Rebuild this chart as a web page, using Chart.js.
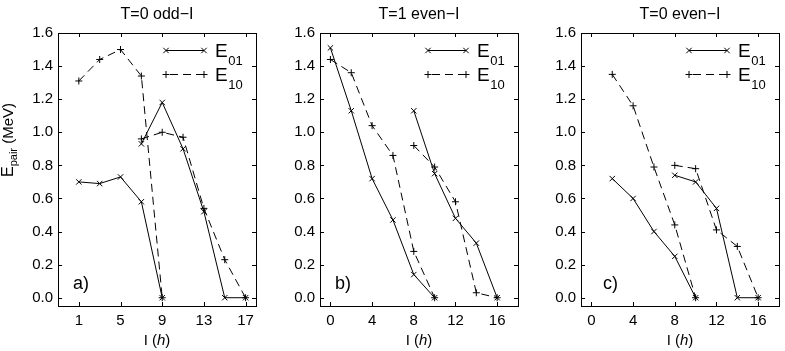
<!DOCTYPE html>
<html><head><meta charset="utf-8">
<script src="https://cdn.jsdelivr.net/npm/chart.js@4/dist/chart.umd.min.js"></script>
<style>
html,body{margin:0;padding:0;background:#fff;width:785px;height:351px;overflow:hidden}
canvas{position:absolute;left:0;top:0}
</style></head>
<body>
<canvas id="ca" width="785" height="351"></canvas>
<canvas id="cb" width="785" height="351"></canvas>
<canvas id="cc" width="785" height="351"></canvas>
<script>
// ---- text ----
const titles = ["T=0 odd\u2212I", "T=1 even\u2212I", "T=0 even\u2212I"];
const panelLabels = ["a)", "b)", "c)"];
const seriesNames = ["01", "10"];
// ---- tick labels ----
const xTicksA = [1, 5, 9, 13, 17];
const xTicksB = [0, 4, 8, 12, 16];
const xTicksC = [0, 4, 8, 12, 16];
const yTicks = [0, 0.2, 0.4, 0.6, 0.8, 1.0, 1.2, 1.4, 1.6];
// ---- panel a: T=0 odd-I ----
const a_I_low = [1, 3, 5, 7, 9];
const a_E01_low = [0.70, 0.69, 0.73, 0.58, 0.00];
const a_E10_low = [1.31, 1.44, 1.50, 1.34, 0.00];
const a_I_high = [7, 9, 11, 13, 15, 17];
const a_E01_high = [0.93, 1.18, 0.90, 0.52, 0.00, 0.00];
const a_E10_high = [0.96, 1.00, 0.97, 0.54, 0.23, 0.00];
// ---- panel b: T=1 even-I ----
const b_I_low = [0, 2, 4, 6, 8, 10];
const b_E01_low = [1.51, 1.13, 0.72, 0.47, 0.14, 0.00];
const b_E10_low = [1.44, 1.36, 1.04, 0.86, 0.28, 0.00];
const b_I_high = [8, 10, 12, 14, 16];
const b_E01_high = [1.13, 0.75, 0.48, 0.33, 0.00];
const b_E10_high = [0.92, 0.79, 0.58, 0.03, 0.00];
// ---- panel c: T=0 even-I ----
const c_I_low = [2, 4, 6, 8, 10];
const c_E01_low = [0.72, 0.60, 0.40, 0.25, 0.00];
const c_E10_low = [1.35, 1.16, 0.79, 0.44, 0.00];
const c_I_high = [8, 10, 12, 14, 16];
const c_E01_high = [0.74, 0.70, 0.54, 0.00, 0.00];
const c_E10_high = [0.80, 0.78, 0.41, 0.31, 0.00];

const FONT = '"Liberation Sans", Arial, Helvetica, sans-serif';
const PW = 198;
const DASH = [8, 5];

function pts(I, E) { return I.map((x, i) => ({ x: x, y: E[i] })); }
function ds(I, E, dashed) {
  return {
    data: pts(I, E),
    borderColor: '#000', backgroundColor: '#000', borderWidth: 1,
    borderDash: dashed ? DASH : [],
    pointStyle: dashed ? 'cross' : 'crossRot',
    pointRadius: dashed ? 3.5 : 3.8, pointBorderWidth: 1,
    pointBorderColor: '#000', pointBackgroundColor: '#000',
    fill: false, tension: 0
  };
}

function drawMarker(ctx, x, y, type) {
  ctx.save(); ctx.setLineDash([]); ctx.beginPath();
  if (type === 'x') {
    const r = 2.7;
    ctx.moveTo(x - r, y - r); ctx.lineTo(x + r, y + r);
    ctx.moveTo(x - r, y + r); ctx.lineTo(x + r, y - r);
  } else {
    const r = 3.5;
    ctx.moveTo(x - r, y); ctx.lineTo(x + r, y);
    ctx.moveTo(x, y - r); ctx.lineTo(x, y + r);
  }
  ctx.stroke(); ctx.restore();
}

const decoPlugin = {
  id: 'deco',
  afterDraw(chart, args, o) {
    const ctx = chart.ctx, a = chart.chartArea;
    const xs = chart.scales.x, ys = chart.scales.y;
    ctx.save();
    ctx.strokeStyle = '#000'; ctx.fillStyle = '#000'; ctx.lineWidth = 1;
    // frame
    ctx.strokeRect(Math.round(a.left) + 0.5, Math.round(a.top) + 0.5,
      Math.round(a.right - a.left), Math.round(a.bottom - a.top));
    // inward ticks
    const tl = 4;
    ctx.beginPath();
    o.xticks.forEach(v => {
      const px = Math.round(xs.getPixelForValue(v)) + 0.5;
      ctx.moveTo(px, a.bottom); ctx.lineTo(px, a.bottom - tl);
      ctx.moveTo(px, a.top); ctx.lineTo(px, a.top + tl);
    });
    yTicks.forEach(v => {
      const py = Math.round(ys.getPixelForValue(v)) + 0.5;
      ctx.moveTo(a.left, py); ctx.lineTo(a.left + tl, py);
      ctx.moveTo(a.right, py); ctx.lineTo(a.right - tl, py);
    });
    ctx.stroke();
    const cx = (a.left + a.right) / 2;
    // title
    ctx.font = '16px ' + FONT; ctx.textAlign = 'center'; ctx.textBaseline = 'middle';
    ctx.fillText(o.title, cx, 15);
    // x label "I (h)"
    ctx.textBaseline = 'alphabetic'; ctx.textAlign = 'left';
    const f1 = '15px ' + FONT, f2 = 'italic 15px ' + FONT;
    ctx.font = f1; const w1 = ctx.measureText('I (').width, w3 = ctx.measureText(')').width;
    ctx.font = f2; const w2 = ctx.measureText('h').width;
    let sx = cx - (w1 + w2 + w3) / 2; const by = 345;
    ctx.font = f1; ctx.fillText('I (', sx, by);
    ctx.font = f2; ctx.fillText('h', sx + w1, by);
    ctx.font = f1; ctx.fillText(')', sx + w1 + w2, by);
    // panel label
    ctx.font = '18px ' + FONT;
    ctx.fillText(o.label, o.labelX, 289);
    // legend
    const lx0 = a.right - 90, lx1 = a.right - 52, tx = a.right - 41;
    const rows = [{ y: 50, dash: [], m: 'x', name: seriesNames[0] },
                  { y: 74, dash: DASH, m: '+', name: seriesNames[1] }];
    rows.forEach(r => {
      ctx.save(); ctx.setLineDash(r.dash); ctx.lineDashOffset = -4;
      ctx.beginPath(); ctx.moveTo(lx0, r.y + 0.5); ctx.lineTo(lx1, r.y + 0.5); ctx.stroke();
      ctx.restore();
      drawMarker(ctx, lx0, r.y + 0.5, r.m); drawMarker(ctx, lx1, r.y + 0.5, r.m);
      ctx.font = '19px ' + FONT;
      ctx.fillText('E', tx, r.y + 7);
      const ew = ctx.measureText('E').width;
      ctx.font = '13px ' + FONT;
      ctx.fillText(r.name, tx + ew + 0.5, r.y + 15);
    });
    // y label
    if (o.ylabel) {
      ctx.save();
      ctx.translate(13, 177); ctx.rotate(-Math.PI / 2);
      ctx.font = '16px ' + FONT; ctx.fillText('E', 0, 0);
      let w = ctx.measureText('E').width;
      ctx.font = '11px ' + FONT; ctx.fillText('pair', w, 4);
      w += ctx.measureText('pair').width;
      ctx.font = '15px ' + FONT; ctx.fillText(' (MeV)', w, 0);
      ctx.restore();
    }
    ctx.restore();
  }
};

function makePanel(id, left, xticks, sets, title, label, labelX, ylabel) {
  new Chart(document.getElementById(id), {
    type: 'line',
    data: { datasets: sets },
    options: {
      responsive: false, animation: false, devicePixelRatio: 1,
      events: [],
      layout: { padding: { left: left - 40, right: 785 - (left + PW), top: 33, bottom: 0 } },
      plugins: {
        legend: { display: false }, tooltip: { enabled: false }, title: { display: false },
        deco: { title: title, label: label, labelX: labelX, xticks: xticks, ylabel: ylabel }
      },
      scales: {
        x: {
          type: 'linear', min: -1, max: 18,
          afterBuildTicks: s => { s.ticks = xticks.map(v => ({ value: v })); },
          afterFit: s => { s.height = 45; },
          grid: { display: false, drawTicks: false }, border: { display: false },
          ticks: { color: '#000', font: { family: FONT, size: 15 }, padding: 6, maxRotation: 0, autoSkip: false }
        },
        y: {
          type: 'linear', min: -0.05, max: 1.6,
          afterBuildTicks: s => { s.ticks = yTicks.map(v => ({ value: v })); },
          afterFit: s => { s.width = 40; },
          grid: { display: false, drawTicks: false }, border: { display: false },
          ticks: { color: '#000', font: { family: FONT, size: 15 }, padding: 5, autoSkip: false,
                   callback: v => Number(v).toFixed(1) }
        }
      }
    },
    plugins: [decoPlugin]
  });
}

makePanel('ca', 58, xTicksA, [
  ds(a_I_low, a_E01_low, false), ds(a_I_high, a_E01_high, false),
  ds(a_I_low, a_E10_low, true), ds(a_I_high, a_E10_high, true)
], titles[0], panelLabels[0], 73, true);
makePanel('cb', 320, xTicksB, [
  ds(b_I_low, b_E01_low, false), ds(b_I_high, b_E01_high, false),
  ds(b_I_low, b_E10_low, true), ds(b_I_high, b_E10_high, true)
], titles[1], panelLabels[1], 335, false);
makePanel('cc', 581, xTicksC, [
  ds(c_I_low, c_E01_low, false), ds(c_I_high, c_E01_high, false),
  ds(c_I_low, c_E10_low, true), ds(c_I_high, c_E10_high, true)
], titles[2], panelLabels[2], 603, false);
</script>
</body></html>
